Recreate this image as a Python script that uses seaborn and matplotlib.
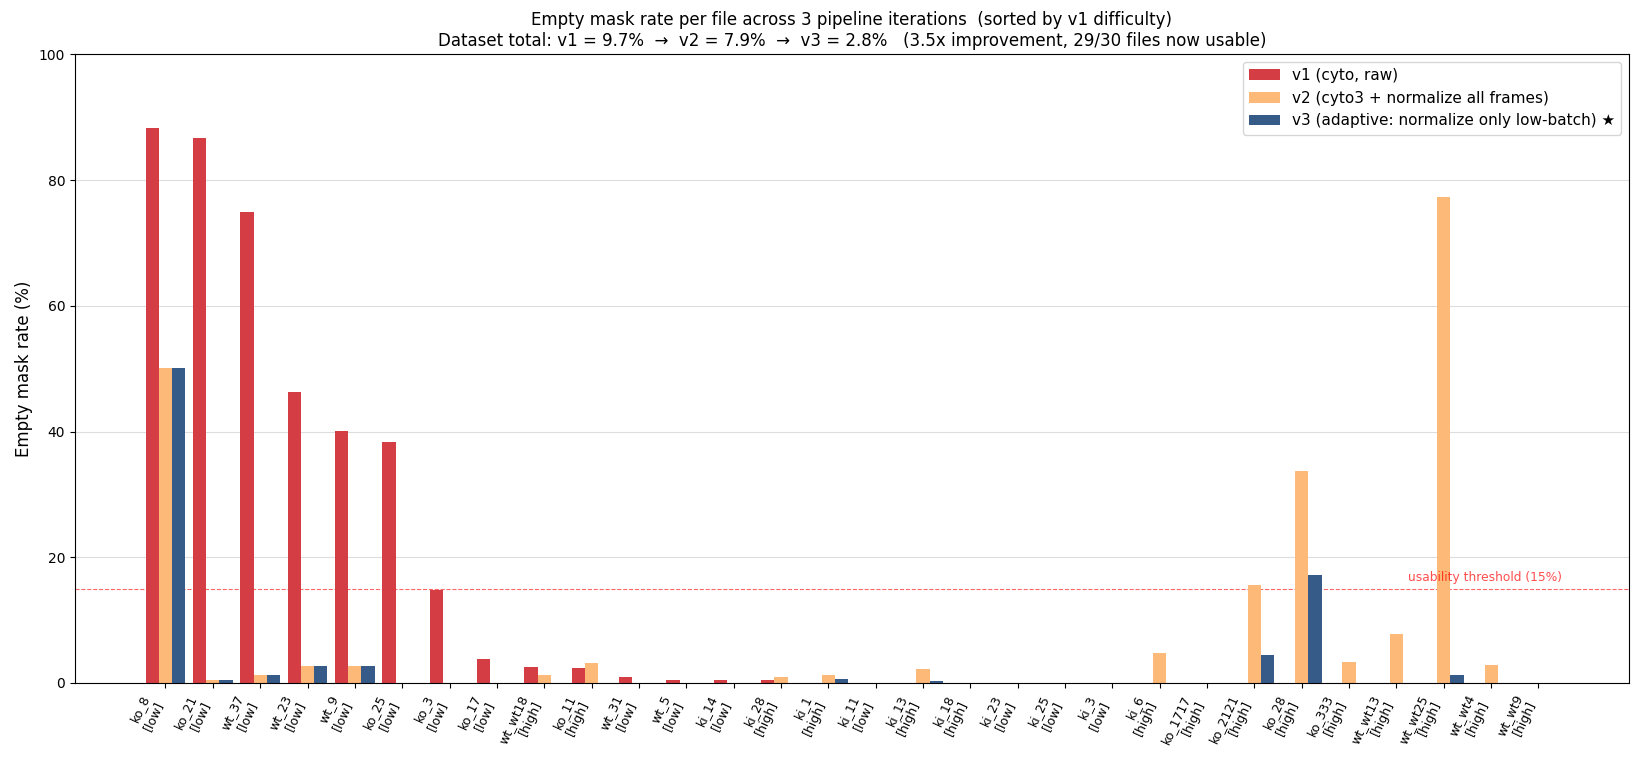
import matplotlib
matplotlib.use("Agg")
import matplotlib.pyplot as plt
import seaborn as sns
import pandas as pd
import numpy as np

files = ["ko_8", "ko_21", "wt_37", "wt_23", "wt_9", "ko_25", "ko_3", "ko_17", "wt_wt18", "ko_11",
         "wt_31", "wt_5", "ki_14", "ki_28", "ki_1", "ki_11", "ki_13", "ki_18", "ki_23", "ki_25",
         "ki_3", "ki_6", "ko_1717", "ko_2121", "ko_28", "ko_333", "wt_wt13", "wt_wt25", "wt_wt4", "wt_wt9"]
batch = ["low", "low", "low", "low", "low", "low", "low", "low", "high", "high",
         "low", "low", "low", "high", "high", "low", "high", "high", "low", "low",
         "low", "high", "high", "high", "high", "high", "high", "high", "high", "high"]
v1 = [88.3, 86.7, 75.0, 46.3, 40.1, 38.3, 14.8, 3.8, 2.6, 2.4,
      1.0, 0.5, 0.5, 0.5, 0.0, 0.0, 0.0, 0.0, 0.0, 0.0,
      0.0, 0.0, 0.0, 0.0, 0.0, 0.0, 0.0, 0.0, 0.0, 0.0]
v2 = [50.1, 0.5, 1.3, 2.7, 2.7, 0.0, 0.0, 0.0, 1.3, 3.1,
      0.0, 0.0, 0.0, 1.0, 1.3, 0.0, 2.3, 0.0, 0.0, 0.0,
      0.0, 4.8, 0.0, 15.6, 33.7, 3.4, 7.8, 77.3, 2.9, 0.0]
v3 = [50.1, 0.5, 1.3, 2.7, 2.7, 0.0, 0.0, 0.0, 0.0, 0.0,
      0.0, 0.0, 0.0, 0.0, 0.6, 0.0, 0.3, 0.0, 0.0, 0.0,
      0.0, 0.0, 0.0, 4.4, 17.2, 0.0, 0.0, 1.3, 0.0, 0.0]
series_names = ["v1 (cyto, raw)",
                "v2 (cyto3 + normalize all frames)",
                "v3 (adaptive: normalize only low-batch) \u2605"]
colors = ["#d43d44", "#fdb978", "#365b88"]
threshold = 15

tick_labels = [f"{f}\n[{b}]" for f, b in zip(files, batch)]
df = pd.DataFrame({
    "file": tick_labels * 3,
    "rate": v1 + v2 + v3,
    "version": [series_names[0]] * len(files) + [series_names[1]] * len(files) + [series_names[2]] * len(files),
})

fig, ax = plt.subplots(figsize=(16.4, 7.62), dpi=100)
fig.subplots_adjust(left=0.0457, right=0.9933, top=0.9286, bottom=0.1037)

sns.barplot(data=df, x="file", y="rate", hue="version", order=tick_labels,
            hue_order=series_names, palette=dict(zip(series_names, colors)),
            width=0.84, errorbar=None, saturation=1, ax=ax, zorder=2)

n = len(files)
span = (n - 1) + 0.84
ax.set_xlim(-0.42 - 0.05 * span, n - 1 + 0.42 + 0.05 * span)
ax.set_ylim(0, 100)
ax.set_yticks(np.arange(0, 101, 20))
ax.set_xlabel("")
ax.set_ylabel("Empty mask rate (%)", fontsize=12)
ax.tick_params(axis="x", labelsize=9)
plt.setp(ax.get_xticklabels(), rotation=65, ha="right")
ax.yaxis.grid(True, color="#dddddd", linewidth=0.8, zorder=0)
ax.set_axisbelow(True)

ax.axhline(threshold, color="red", linestyle="--", linewidth=0.8, alpha=0.6, zorder=1)
ax.text(n - 0.5, threshold + 0.8, "usability threshold (15%)", color="red", alpha=0.7,
        fontsize=8.8, ha="right", va="bottom")

ax.set_title("Empty mask rate per file across 3 pipeline iterations  (sorted by v1 difficulty)\n"
             "Dataset total: v1 = 9.7%  \u2192  v2 = 7.9%  \u2192  v3 = 2.8%   (3.5x improvement, 29/30 files now usable)",
             fontsize=12)
ax.legend(loc="upper right", fontsize=11, title=None)

fig.savefig("out.png", dpi=100)
